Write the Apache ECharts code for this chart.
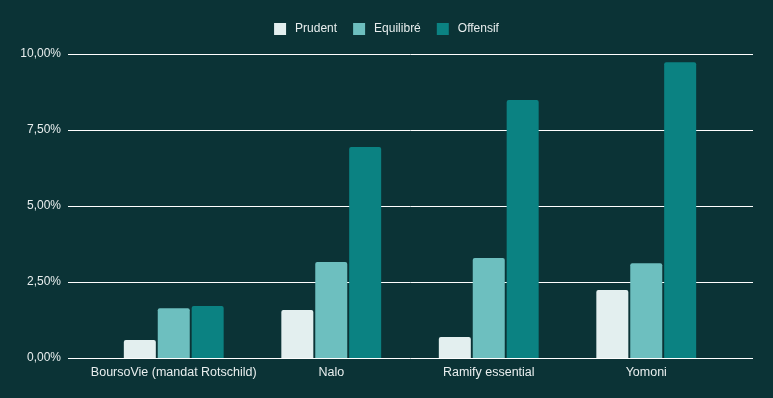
<!DOCTYPE html>
<html>
<head>
<meta charset="utf-8">
<script src="https://cdn.jsdelivr.net/npm/echarts@6/dist/echarts.min.js"></script>
<style>
  html, body { margin: 0; padding: 0; background: #0b3336; }
  #chart { width: 773px; height: 398px; }
</style>
</head>
<body>
<div id="chart"></div>
<script>
// données (en %)
var categories = ["BoursoVie (mandat Rotschild)", "Nalo", "Ramify essential", "Yomoni"];
var seriesNames = ["Prudent", "Equilibré", "Offensif"];
var prudent = [0.59, 1.58, 0.69, 2.24];
var equilibre = [1.64, 3.16, 3.29, 3.12];
var offensif = [1.71, 6.94, 8.49, 9.73];
var yTicks = [0, 2.5, 5, 7.5, 10];

var colors = ["#e3efef", "#6dbfbf", "#0b8282"];
var textColor = "#e8eeee";

function fmt(v) {
  return v.toFixed(2).replace(".", ",") + "%";
}

var myChart = echarts.init(document.getElementById("chart"));

var option = {
  backgroundColor: "#0b3336",
  textStyle: { fontFamily: "Liberation Sans, Arial, sans-serif" },
  legend: {
    top: 18,
    left: "center",
    itemWidth: 12,
    itemHeight: 12,
    itemGap: 16,
    icon: "rect",
    textStyle: { color: textColor, fontSize: 12, padding: [0, 0, 0, 4] },
    data: seriesNames
  },
  grid: [
    // grille des barres
    { left: 95, right: 48, top: 54, bottom: 40 },
    // grille des lignes horizontales
    { left: 68, right: 20, top: 54, bottom: 40 }
  ],
  xAxis: [
    {
      type: "category",
      gridIndex: 0,
      data: categories,
      axisLine: { show: false },
      axisTick: { show: false },
      axisLabel: { color: textColor, fontSize: 12.5, margin: 8, interval: 0 }
    },
    {
      type: "category",
      gridIndex: 1,
      data: categories,
      show: false,
      splitLine: { show: false }
    }
  ],
  yAxis: [
    {
      type: "value",
      gridIndex: 0,
      min: yTicks[0],
      max: yTicks[yTicks.length - 1],
      interval: 2.5,
      show: false,
      splitLine: { show: false }
    },
    {
      type: "value",
      gridIndex: 1,
      min: yTicks[0],
      max: yTicks[yTicks.length - 1],
      interval: 2.5,
      axisLine: { show: false },
      axisTick: { show: false },
      axisLabel: { color: textColor, fontSize: 12, margin: 7, formatter: fmt },
      splitLine: { show: true, lineStyle: { color: "#ffffff", width: 1 } }
    }
  ],
  series: [
    {
      name: seriesNames[0],
      type: "bar",
      xAxisIndex: 0,
      yAxisIndex: 0,
      data: prudent,
      barWidth: 32,
      barGap: "6%",
      itemStyle: { color: colors[0], borderRadius: [2, 2, 0, 0] }
    },
    {
      name: seriesNames[1],
      type: "bar",
      xAxisIndex: 0,
      yAxisIndex: 0,
      data: equilibre,
      barWidth: 32,
      barGap: "6%",
      itemStyle: { color: colors[1], borderRadius: [2, 2, 0, 0] }
    },
    {
      name: seriesNames[2],
      type: "bar",
      xAxisIndex: 0,
      yAxisIndex: 0,
      data: offensif,
      barWidth: 32,
      barGap: "6%",
      itemStyle: { color: colors[2], borderRadius: [2, 2, 0, 0] }
    }
  ]
};

myChart.setOption(option);
</script>
</body>
</html>
